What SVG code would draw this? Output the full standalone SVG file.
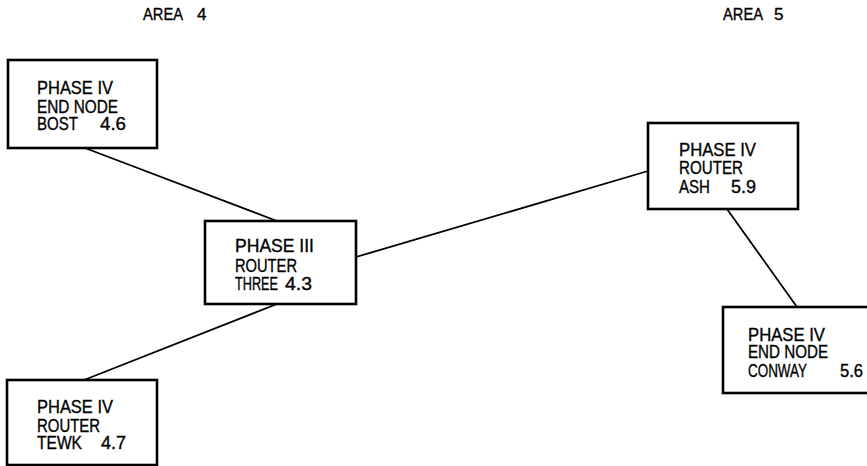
<svg xmlns="http://www.w3.org/2000/svg" width="867" height="466" viewBox="0 0 867 466">
<style>
.box{fill:#fff;stroke:#000;stroke-width:2.6}
.ln{stroke:#000;stroke-width:1.8;fill:none}
text{font-family:"Liberation Sans","DejaVu Sans",sans-serif;font-size:18.5px;fill:#000;stroke:#000;stroke-width:0.35}
.area{font-size:17px}
</style>
<rect width="867" height="466" fill="#fff"/>
<g id="connectors">
<line class="ln" x1="85" y1="148" x2="277" y2="221"/>
<line class="ln" x1="356" y1="257" x2="648" y2="171"/>
<line class="ln" x1="727" y1="209" x2="797" y2="307"/>
<line class="ln" x1="277" y1="304" x2="84" y2="380"/>
</g>
<g id="area4"><text class="area"><tspan x="143" y="20" textLength="40" lengthAdjust="spacingAndGlyphs">AREA</tspan><tspan x="197" y="20">4</tspan></text></g>
<g id="area5"><text class="area"><tspan x="723" y="20" textLength="40" lengthAdjust="spacingAndGlyphs">AREA</tspan><tspan x="774" y="20">5</tspan></text></g>
<g id="bost">
<rect class="box" x="8" y="60" width="149" height="88"/>
<text><tspan x="37" y="94" textLength="76" lengthAdjust="spacingAndGlyphs">PHASE IV</tspan><tspan x="37" y="113" textLength="81" lengthAdjust="spacingAndGlyphs">END NODE</tspan><tspan x="37" y="130" textLength="41" lengthAdjust="spacingAndGlyphs">BOST</tspan><tspan x="100" y="130" textLength="26" lengthAdjust="spacingAndGlyphs">4.6</tspan></text>
</g>
<g id="three">
<rect class="box" x="205" y="221" width="151" height="83"/>
<text><tspan x="235" y="252" textLength="79" lengthAdjust="spacingAndGlyphs">PHASE III</tspan><tspan x="235" y="272" textLength="62" lengthAdjust="spacingAndGlyphs">ROUTER</tspan><tspan x="235" y="290" textLength="43" lengthAdjust="spacingAndGlyphs">THREE</tspan><tspan x="285" y="290" textLength="27" lengthAdjust="spacingAndGlyphs">4.3</tspan></text>
</g>
<g id="ash">
<rect class="box" x="648" y="123" width="150" height="86"/>
<text><tspan x="679" y="156" textLength="77" lengthAdjust="spacingAndGlyphs">PHASE IV</tspan><tspan x="679" y="174" textLength="64" lengthAdjust="spacingAndGlyphs">ROUTER</tspan><tspan x="679" y="193" textLength="31" lengthAdjust="spacingAndGlyphs">ASH</tspan><tspan x="731" y="193" textLength="25" lengthAdjust="spacingAndGlyphs">5.9</tspan></text>
</g>
<g id="conway">
<rect class="box" x="723" y="307" width="150" height="86"/>
<text><tspan x="748" y="341" textLength="77" lengthAdjust="spacingAndGlyphs">PHASE IV</tspan><tspan x="748" y="358" textLength="80" lengthAdjust="spacingAndGlyphs">END NODE</tspan><tspan x="748" y="377" textLength="59" lengthAdjust="spacingAndGlyphs">CONWAY</tspan><tspan x="840" y="377" textLength="23" lengthAdjust="spacingAndGlyphs">5.6</tspan></text>
</g>
<g id="tewk">
<rect class="box" x="7" y="380" width="150" height="85"/>
<text><tspan x="37" y="413" textLength="76" lengthAdjust="spacingAndGlyphs">PHASE IV</tspan><tspan x="37" y="432" textLength="63" lengthAdjust="spacingAndGlyphs">ROUTER</tspan><tspan x="37" y="449" textLength="45" lengthAdjust="spacingAndGlyphs">TEWK</tspan><tspan x="101" y="449" textLength="25" lengthAdjust="spacingAndGlyphs">4.7</tspan></text>
</g>
</svg>
